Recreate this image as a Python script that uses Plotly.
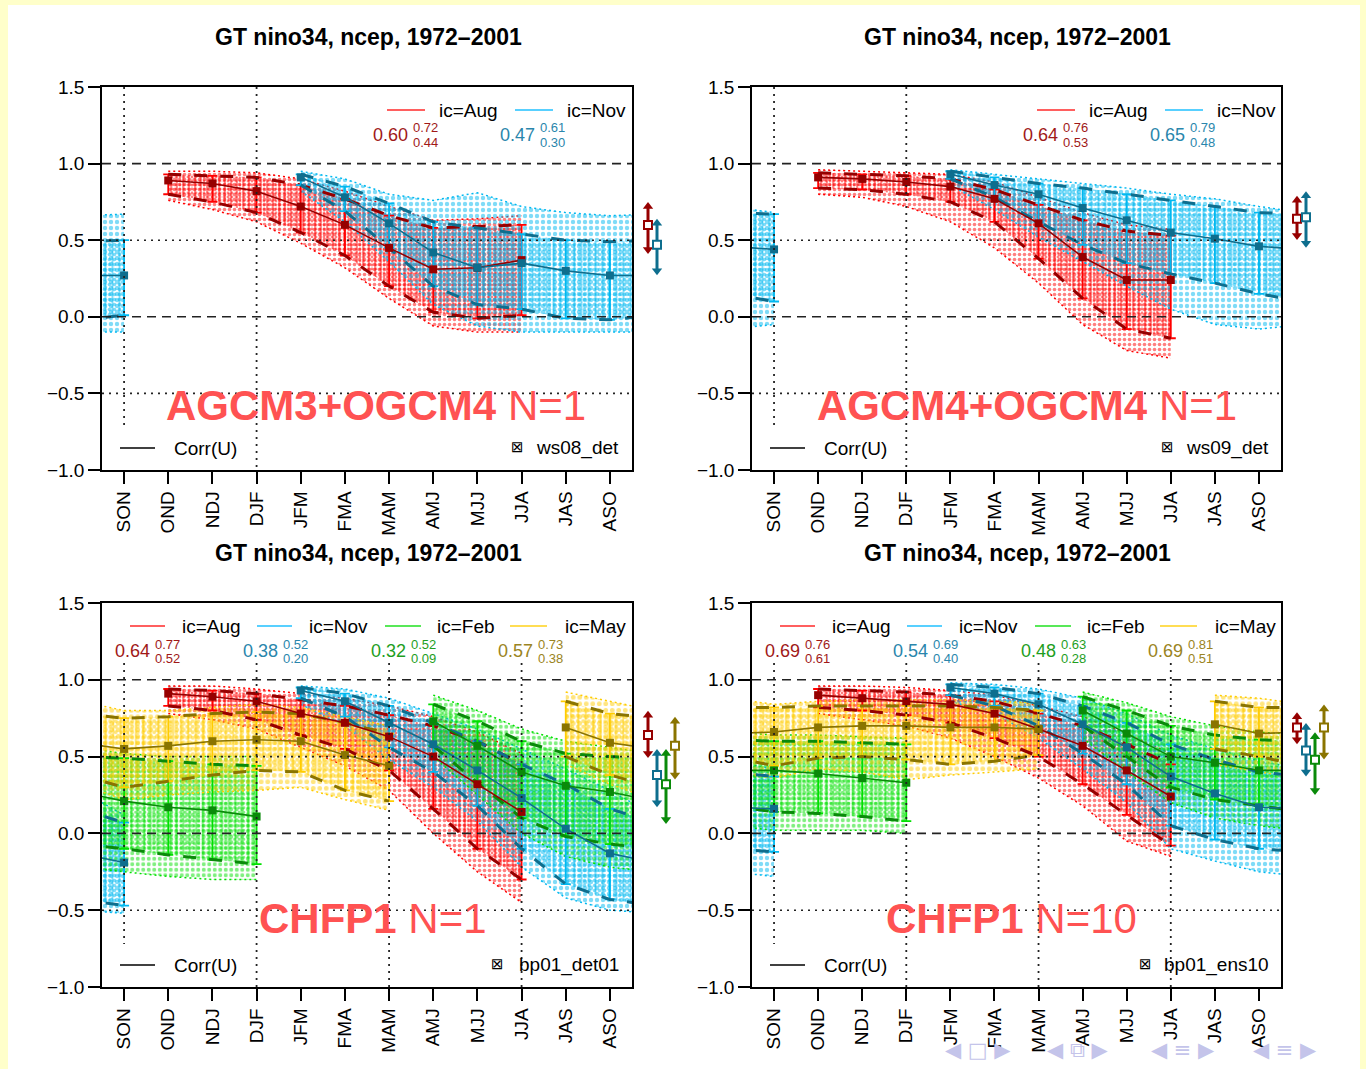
import plotly.graph_objects as go

W, H = 1366, 1069

# ---------------- data ----------------
seasons = ["SON", "OND", "NDJ", "DJF", "JFM", "FMA", "MAM", "AMJ", "MJJ", "JJA", "JAS", "ASO"]
y_ticks = [-1.0, -0.5, 0.0, 0.5, 1.0, 1.5]
ic_months = ["Aug", "Nov", "Feb", "May"]
ic_start = [1, 4, 7, 10]  # index of first target season for each initial month

# --- ws08_det (AGCM3+OGCM4 N=1) ---
ws08_aug_corr = [0.89, 0.87, 0.82, 0.72, 0.60, 0.45, 0.31, 0.32, 0.37]
ws08_aug_hi = [0.93, 0.92, 0.91, 0.86, 0.77, 0.66, 0.58, 0.59, 0.60]
ws08_aug_lo = [0.80, 0.75, 0.68, 0.55, 0.40, 0.20, 0.03, -0.01, 0.01]
ws08_aug_ens_hi = [0.95, 0.95, 0.94, 0.90, 0.82, 0.72, 0.63, 0.64, 0.66]
ws08_aug_ens_lo = [0.76, 0.70, 0.62, 0.48, 0.32, 0.12, -0.06, -0.10, -0.10]
ws08_nov_corr = [0.91, 0.78, 0.61, 0.42, 0.32, 0.35, 0.30, 0.27, 0.27]
ws08_nov_hi = [0.93, 0.85, 0.74, 0.62, 0.58, 0.54, 0.50, 0.49, 0.50]
ws08_nov_lo = [0.86, 0.69, 0.45, 0.20, 0.08, 0.05, -0.01, -0.02, 0.01]
ws08_nov_ens_hi = [0.95, 0.90, 0.80, 0.76, 0.81, 0.72, 0.68, 0.66, 0.67]
ws08_nov_ens_lo = [0.82, 0.62, 0.36, 0.08, -0.06, -0.10, -0.10, -0.10, -0.10]
ws08_skill = [0.60, 0.47]
ws08_skill_hi = [0.72, 0.61]
ws08_skill_lo = [0.44, 0.30]

# --- ws09_det (AGCM4+OGCM4 N=1) ---
ws09_aug_corr = [0.91, 0.90, 0.88, 0.85, 0.77, 0.61, 0.39, 0.24, 0.24]
ws09_aug_hi = [0.94, 0.93, 0.92, 0.90, 0.83, 0.73, 0.63, 0.56, 0.53]
ws09_aug_lo = [0.84, 0.83, 0.80, 0.75, 0.62, 0.38, 0.12, -0.08, -0.14]
ws09_aug_ens_hi = [0.96, 0.95, 0.94, 0.93, 0.88, 0.78, 0.68, 0.60, 0.57]
ws09_aug_ens_lo = [0.80, 0.78, 0.72, 0.62, 0.45, 0.22, -0.05, -0.22, -0.27]
ws09_nov_corr = [0.93, 0.86, 0.80, 0.71, 0.63, 0.55, 0.51, 0.46, 0.44]
ws09_nov_hi = [0.95, 0.91, 0.87, 0.84, 0.80, 0.76, 0.72, 0.68, 0.67]
ws09_nov_lo = [0.90, 0.78, 0.62, 0.47, 0.35, 0.28, 0.22, 0.15, 0.10]
ws09_nov_ens_hi = [0.96, 0.93, 0.90, 0.87, 0.84, 0.80, 0.77, 0.72, 0.68]
ws09_nov_ens_lo = [0.86, 0.70, 0.52, 0.36, 0.20, 0.05, -0.05, -0.08, -0.05]
ws09_skill = [0.64, 0.65]
ws09_skill_hi = [0.76, 0.79]
ws09_skill_lo = [0.53, 0.48]

# --- bp01_det01 (CHFP1 N=1) ---
det01_aug_corr = [0.91, 0.89, 0.86, 0.78, 0.72, 0.63, 0.50, 0.32, 0.14]
det01_aug_hi = [0.94, 0.93, 0.91, 0.87, 0.83, 0.77, 0.70, 0.60, 0.45]
det01_aug_lo = [0.83, 0.80, 0.74, 0.64, 0.55, 0.41, 0.16, -0.10, -0.30]
det01_aug_ens_hi = [0.96, 0.96, 0.94, 0.91, 0.88, 0.83, 0.76, 0.66, 0.52]
det01_aug_ens_lo = [0.78, 0.74, 0.68, 0.56, 0.44, 0.28, 0.00, -0.25, -0.45]
det01_nov_corr = [0.93, 0.86, 0.72, 0.58, 0.41, 0.23, 0.03, -0.13, -0.19]
det01_nov_hi = [0.95, 0.91, 0.83, 0.72, 0.60, 0.45, 0.32, 0.16, 0.07]
det01_nov_lo = [0.88, 0.76, 0.56, 0.40, 0.18, -0.10, -0.33, -0.43, -0.47]
det01_nov_ens_hi = [0.96, 0.94, 0.88, 0.78, 0.68, 0.55, 0.42, 0.28, 0.12]
det01_nov_ens_lo = [0.84, 0.70, 0.48, 0.30, 0.08, -0.22, -0.42, -0.50, -0.52]
det01_feb_corr = [0.73, 0.57, 0.40, 0.31, 0.27, 0.21, 0.17, 0.15, 0.11]
det01_feb_hi = [0.84, 0.73, 0.60, 0.52, 0.50, 0.49, 0.47, 0.45, 0.44]
det01_feb_lo = [0.57, 0.33, 0.10, -0.02, -0.07, -0.10, -0.14, -0.17, -0.20]
det01_feb_ens_hi = [0.90, 0.80, 0.68, 0.60, 0.56, 0.52, 0.50, 0.50, 0.50]
det01_feb_ens_lo = [0.50, 0.25, 0.00, -0.15, -0.22, -0.25, -0.28, -0.30, -0.30]
det01_may_corr = [0.69, 0.59, 0.55, 0.57, 0.60, 0.61, 0.60, 0.51, 0.44]
det01_may_hi = [0.86, 0.78, 0.75, 0.76, 0.78, 0.79, 0.78, 0.72, 0.65]
det01_may_lo = [0.50, 0.38, 0.30, 0.34, 0.38, 0.41, 0.40, 0.28, 0.21]
det01_may_ens_hi = [0.92, 0.86, 0.80, 0.80, 0.82, 0.84, 0.82, 0.76, 0.70]
det01_may_ens_lo = [0.45, 0.32, 0.22, 0.25, 0.27, 0.28, 0.30, 0.22, 0.15]
det01_skill = [0.64, 0.38, 0.32, 0.57]
det01_skill_hi = [0.77, 0.52, 0.52, 0.73]
det01_skill_lo = [0.52, 0.20, 0.09, 0.38]

# --- bp01_ens10 (CHFP1 N=10) ---
ens10_aug_corr = [0.90, 0.88, 0.86, 0.84, 0.78, 0.68, 0.57, 0.41, 0.24]
ens10_aug_hi = [0.94, 0.93, 0.92, 0.90, 0.86, 0.78, 0.70, 0.58, 0.45]
ens10_aug_lo = [0.82, 0.80, 0.77, 0.72, 0.62, 0.50, 0.32, 0.12, -0.08]
ens10_aug_ens_hi = [0.96, 0.96, 0.95, 0.93, 0.90, 0.83, 0.76, 0.65, 0.52]
ens10_aug_ens_lo = [0.78, 0.74, 0.70, 0.62, 0.50, 0.36, 0.18, -0.05, -0.15]
ens10_nov_corr = [0.95, 0.91, 0.84, 0.71, 0.56, 0.37, 0.26, 0.17, 0.16]
ens10_nov_hi = [0.97, 0.95, 0.91, 0.83, 0.72, 0.58, 0.48, 0.40, 0.37]
ens10_nov_lo = [0.90, 0.83, 0.70, 0.52, 0.32, 0.05, -0.04, -0.10, -0.12]
ens10_nov_ens_hi = [0.98, 0.97, 0.94, 0.88, 0.78, 0.64, 0.55, 0.47, 0.42]
ens10_nov_ens_lo = [0.86, 0.78, 0.62, 0.42, 0.20, -0.10, -0.18, -0.25, -0.28]
ens10_feb_corr = [0.80, 0.65, 0.50, 0.46, 0.41, 0.41, 0.39, 0.36, 0.33]
ens10_feb_hi = [0.89, 0.80, 0.70, 0.64, 0.61, 0.60, 0.60, 0.59, 0.58]
ens10_feb_lo = [0.70, 0.50, 0.30, 0.22, 0.18, 0.14, 0.13, 0.11, 0.08]
ens10_feb_ens_hi = [0.92, 0.85, 0.76, 0.70, 0.66, 0.64, 0.64, 0.63, 0.62]
ens10_feb_ens_lo = [0.62, 0.40, 0.20, 0.10, 0.05, 0.02, 0.02, 0.02, 0.00]
ens10_may_corr = [0.71, 0.65, 0.66, 0.69, 0.70, 0.70, 0.69, 0.69, 0.68]
ens10_may_hi = [0.86, 0.82, 0.82, 0.83, 0.83, 0.83, 0.83, 0.82, 0.80]
ens10_may_lo = [0.55, 0.50, 0.44, 0.49, 0.50, 0.48, 0.45, 0.47, 0.51]
ens10_may_ens_hi = [0.90, 0.88, 0.84, 0.86, 0.87, 0.87, 0.87, 0.86, 0.85]
ens10_may_ens_lo = [0.45, 0.40, 0.36, 0.42, 0.40, 0.35, 0.38, 0.40, 0.42]
ens10_skill = [0.69, 0.54, 0.48, 0.69]
ens10_skill_hi = [0.76, 0.69, 0.63, 0.81]
ens10_skill_lo = [0.61, 0.40, 0.28, 0.51]

title_text = "GT nino34, ncep, 1972–2001"

# ---------------- styles ----------------
FONT = "Liberation Sans, Arial, Helvetica, sans-serif"
LIGHT = {"Aug": "#FF0000", "Nov": "#00B8F0", "Feb": "#00E000", "May": "#FFCC00"}
DARK = {"Aug": "#960000", "Nov": "#0E6E8E", "Feb": "#0A8A0A", "May": "#8A7400"}
TXT = {"Aug": "#A01818", "Nov": "#2A86AC", "Feb": "#1E9E1E", "May": "#9A8422"}
LEG = {"Aug": "#FF2A2A", "Nov": "#20C0FF", "Feb": "#20E020", "May": "#FFD21A"}
PAT = {"Aug": 5, "Nov": 6, "Feb": 5.5, "May": 6.5}
LABEL_RED = "#FF5252"


def S(corr, hi, lo, ens_hi, ens_lo):
    return dict(corr=corr, hi=hi, lo=lo, ens_hi=ens_hi, ens_lo=ens_lo)


panels = [
    dict(name="ws08_det", label="<b>AGCM3+OGCM4</b> N=1", box=(102, 632, 87, 470),
         label_xy=(376, 405), sym_dx=415, vlines=[0, 3], bottom=False,
         series=[S(ws08_aug_corr, ws08_aug_hi, ws08_aug_lo, ws08_aug_ens_hi, ws08_aug_ens_lo),
                 S(ws08_nov_corr, ws08_nov_hi, ws08_nov_lo, ws08_nov_ens_hi, ws08_nov_ens_lo)],
         skill=(ws08_skill, ws08_skill_hi, ws08_skill_lo)),
    dict(name="ws09_det", label="<b>AGCM4+OGCM4</b> N=1", box=(752, 1281, 87, 470),
         label_xy=(1027, 405), sym_dx=415, vlines=[0, 3], bottom=False,
         series=[S(ws09_aug_corr, ws09_aug_hi, ws09_aug_lo, ws09_aug_ens_hi, ws09_aug_ens_lo),
                 S(ws09_nov_corr, ws09_nov_hi, ws09_nov_lo, ws09_nov_ens_hi, ws09_nov_ens_lo)],
         skill=(ws09_skill, ws09_skill_hi, ws09_skill_lo)),
    dict(name="bp01_det01", label="<b>CHFP1</b> N=1", box=(102, 632, 603, 987),
         label_xy=(373, 918), sym_dx=395, vlines=[0, 3, 6, 9], bottom=True,
         series=[S(det01_aug_corr, det01_aug_hi, det01_aug_lo, det01_aug_ens_hi, det01_aug_ens_lo),
                 S(det01_nov_corr, det01_nov_hi, det01_nov_lo, det01_nov_ens_hi, det01_nov_ens_lo),
                 S(det01_feb_corr, det01_feb_hi, det01_feb_lo, det01_feb_ens_hi, det01_feb_ens_lo),
                 S(det01_may_corr, det01_may_hi, det01_may_lo, det01_may_ens_hi, det01_may_ens_lo)],
         skill=(det01_skill, det01_skill_hi, det01_skill_lo)),
    dict(name="bp01_ens10", label="<b>CHFP1</b> N=10", box=(752, 1281, 603, 987),
         label_xy=(1011, 918), sym_dx=393, vlines=[0, 3, 6, 9], bottom=True,
         series=[S(ens10_aug_corr, ens10_aug_hi, ens10_aug_lo, ens10_aug_ens_hi, ens10_aug_ens_lo),
                 S(ens10_nov_corr, ens10_nov_hi, ens10_nov_lo, ens10_nov_ens_hi, ens10_nov_ens_lo),
                 S(ens10_feb_corr, ens10_feb_hi, ens10_feb_lo, ens10_feb_ens_hi, ens10_feb_ens_lo),
                 S(ens10_may_corr, ens10_may_hi, ens10_may_lo, ens10_may_ens_hi, ens10_may_ens_lo)],
         skill=(ens10_skill, ens10_skill_hi, ens10_skill_lo)),
]


def px(x):
    return x / W


def py(y):
    return 1 - y / H


def split_wrap(start, vals):
    xs = [start + k for k in range(len(vals))]
    a = [(x, v) for x, v in zip(xs, vals) if x <= 11]
    b = [(x - 12, v) for x, v in zip(xs, vals) if x > 11]
    segs = []
    if a:
        seg = list(a)
        if b:
            seg.append((12, b[0][1]))
        segs.append(seg)
    if b:
        seg = list(b)
        if a:
            seg.insert(0, (-1, a[-1][1]))
        segs.append(seg)
    return segs


fig = go.Figure()
annotations = []
shapes = []
layout_axes = {}


def ann(x, y, text, size, color="black", xanchor="center", yanchor="middle", **kw):
    annotations.append(dict(x=px(x), y=py(y), xref="paper", yref="paper", text=text,
                            showarrow=False, xanchor=xanchor, yanchor=yanchor,
                            font=dict(size=size, color=color, family=kw.pop("family", FONT)), **kw))


# page background (beamer slide)
shapes.append(dict(type="rect", xref="paper", yref="paper", x0=px(8), x1=px(1360), y0=0, y1=py(5),
                   fillcolor="white", line=dict(width=0), layer="below"))

for i, P in enumerate(panels):
    n = i + 1
    xa = "x" if n == 1 else f"x{n}"
    ya = "y" if n == 1 else f"y{n}"
    xs_ax = f"x{n + 4}"
    L, R, T, B = P["box"]
    nser = len(P["series"])

    layout_axes[f"xaxis{'' if n == 1 else n}"] = dict(
        domain=[px(L), px(R)], anchor=ya, range=[-0.5, 11.5], tickmode="array", automargin=False,
        tickvals=list(range(12)), ticktext=seasons, tickangle=-90, ticks="outside", ticklen=12,
        tickwidth=1.5, tickcolor="black", showline=True, mirror=True, linecolor="black", linewidth=1.5,
        showgrid=False, zeroline=False, tickfont=dict(size=19, family=FONT, color="black"))
    layout_axes[f"yaxis{'' if n == 1 else n}"] = dict(
        domain=[py(B), py(T)], anchor=xa, range=[-1.0, 1.5], tickmode="array", tickvals=y_ticks,
        tickformat=".1f", ticks="outside", ticklen=12, tickwidth=1.5, tickcolor="black", automargin=False,
        showline=True, mirror=True, linecolor="black", linewidth=1.5, showgrid=False, zeroline=False,
        tickfont=dict(size=19, family=FONT, color="black"))
    layout_axes[f"xaxis{n + 4}"] = dict(domain=[px(R + 8), px(R + 52)], anchor=ya, range=[-0.889, 4.0],
                                        visible=False, showgrid=False, zeroline=False, automargin=False)

    # ensemble dotted clouds
    for k in range(nser):
        m = ic_months[k]
        s = P["series"][k]
        st = ic_start[k]
        ps = PAT[m]
        for top, bot, shape, size, sol in [(s["ens_hi"], s["ens_lo"], ".", ps, 0.42),
                                           (s["hi"], s["lo"], "|", ps + 1, 0.28),
                                           (s["hi"], s["lo"], ".", ps - 1, 0.4)]:
            for seg_t, seg_b in zip(split_wrap(st, top), split_wrap(st, bot)):
                xx = [p[0] for p in seg_t] + [p[0] for p in seg_b][::-1]
                yy = [p[1] for p in seg_t] + [p[1] for p in seg_b][::-1]
                fig.add_trace(go.Scatter(
                    x=xx, y=yy, xaxis=xa, yaxis=ya, mode="lines", line=dict(width=0),
                    fill="toself", fillcolor="rgba(0,0,0,0)",
                    fillpattern=dict(shape=shape, fgcolor=LIGHT[m], bgcolor="rgba(0,0,0,0)",
                                     size=size, solidity=sol),
                    hoverinfo="skip", showlegend=False))
        for env in (s["ens_hi"], s["ens_lo"]):
            for seg in split_wrap(st, env):
                fig.add_trace(go.Scatter(
                    x=[p[0] for p in seg], y=[p[1] for p in seg], xaxis=xa, yaxis=ya, mode="lines",
                    line=dict(color=LIGHT[m], width=1.5, dash="2px,3px"), hoverinfo="skip",
                    showlegend=False))

    # error bars, CI dashed lines, correlation lines
    for k in range(nser):
        m = ic_months[k]
        s = P["series"][k]
        st = ic_start[k]
        ptx = [(st + j) % 12 for j in range(len(s["corr"]))]
        fig.add_trace(go.Scatter(
            x=ptx, y=s["corr"], xaxis=xa, yaxis=ya, mode="markers",
            marker=dict(size=1, color="rgba(0,0,0,0)"),
            error_y=dict(type="data", symmetric=False,
                         array=[h - c for h, c in zip(s["hi"], s["corr"])],
                         arrayminus=[c - l for c, l in zip(s["corr"], s["lo"])],
                         color=LIGHT[m], thickness=1.8, width=5),
            hoverinfo="skip", showlegend=False))
        for bound in (s["hi"], s["lo"]):
            for seg in split_wrap(st, bound):
                fig.add_trace(go.Scatter(
                    x=[p[0] for p in seg], y=[p[1] for p in seg], xaxis=xa, yaxis=ya, mode="lines",
                    line=dict(color=DARK[m], width=3, dash="13px,13px"), hoverinfo="skip",
                    showlegend=False))
    for k in range(nser):
        m = ic_months[k]
        s = P["series"][k]
        st = ic_start[k]
        for seg in split_wrap(st, s["corr"]):
            fig.add_trace(go.Scatter(
                x=[p[0] for p in seg], y=[p[1] for p in seg], xaxis=xa, yaxis=ya, mode="lines",
                line=dict(color=DARK[m], width=1.6), hoverinfo="skip", showlegend=False))
        ptx = [(st + j) % 12 for j in range(len(s["corr"]))]
        fig.add_trace(go.Scatter(
            x=ptx, y=s["corr"], xaxis=xa, yaxis=ya, mode="markers",
            marker=dict(symbol="square", size=8, color=DARK[m]), hoverinfo="skip", showlegend=False))

    # summary skill bars to the right of the panel
    sk, skh, skl = P["skill"]
    for k in range(nser):
        m = ic_months[k]
        fig.add_trace(go.Scatter(
            x=[k, k], y=[skl[k], skh[k]], xaxis=xs_ax, yaxis=ya, mode="lines+markers",
            line=dict(color=DARK[m], width=3),
            marker=dict(symbol=["triangle-down", "triangle-up"], size=9, color=DARK[m]),
            cliponaxis=False, hoverinfo="skip", showlegend=False))
        fig.add_trace(go.Scatter(
            x=[k], y=[sk[k]], xaxis=xs_ax, yaxis=ya, mode="markers",
            marker=dict(symbol="square", size=8, color="white", line=dict(color=DARK[m], width=2)),
            cliponaxis=False, hoverinfo="skip", showlegend=False))

    # reference lines
    for yv, dash in [(1.0, "9px,6px"), (0.0, "9px,6px"), (0.5, "2px,5px"), (-0.5, "2px,5px")]:
        shapes.append(dict(type="line", xref=f"{xa} domain", yref=ya, x0=0, x1=1, y0=yv, y1=yv,
                           line=dict(color="#222222", width=1.6, dash=dash)))
    ytop = 1.5 if not P["bottom"] else 1.11
    for xv in P["vlines"]:
        ybot = -0.72 if xv == 0 else -1.0
        shapes.append(dict(type="line", xref=xa, yref=ya, x0=xv, x1=xv, y0=ytop, y1=ybot,
                           line=dict(color="#222222", width=1.8, dash="2px,5px")))

    # title
    ann((L + R) / 2 + 1, T - 50, f"<b>{title_text}</b>", 23)

    # legend for initial months and mean skills
    if not P["bottom"]:
        leg_line = [(285, 323), (413, 451)]
        leg_txt = [335, 463]
        num_r = [308, 435]
    else:
        leg_line = [(28, 63), (155, 190), (283, 319), (408, 445)]
        leg_txt = [78, 205, 333, 461]
        num_r = [50, 178, 306, 433]
    for k in range(nser):
        m = ic_months[k]
        shapes.append(dict(type="line", xref="paper", yref="paper", x0=px(L + leg_line[k][0]),
                           x1=px(L + leg_line[k][1]), y0=py(T + 23), y1=py(T + 23),
                           line=dict(color=LEG[m], width=1.6)))
        ann(L + leg_txt[k], T + 23, f"ic={m}", 19, xanchor="left")
        ann(L + num_r[k], T + 48, f"{sk[k]:.2f}", 18, color=TXT[m], xanchor="right")
        ann(L + num_r[k] + 1, T + 41, f"{skh[k]:.2f}", 13, color=TXT[m], xanchor="left")
        ann(L + num_r[k] + 1, T + 55, f"{skl[k]:.2f}", 13, color=TXT[m], xanchor="left")

    # bottom legend
    shapes.append(dict(type="line", xref="paper", yref="paper", x0=px(L + 18), x1=px(L + 53),
                       y0=py(B - 22), y1=py(B - 22), line=dict(color="black", width=1.4)))
    ann(L + 70, B - 22, "Corr(U)", 19, xanchor="left")
    ann(L + P["sym_dx"], B - 23, "⊠", 15, xanchor="center", family="DejaVu Sans")
    ann(L + 519, B - 22, P["name"], 19, xanchor="right")

    # big model label
    ann(P["label_xy"][0], P["label_xy"][1], P["label"], 42, color=LABEL_RED)

# beamer navigation symbols
for cx, sym in [(978, "◀ □ ▶"), (1078, "◀ ⧉ ▶"), (1183, "◀ ≡ ▶"), (1285, "◀ ≡ ▶")]:
    ann(cx, 1050, sym, 21, color="#C4C4EA", family="DejaVu Sans")

fig.update_layout(
    width=W, height=H, margin=dict(l=0, r=0, t=0, b=0, pad=0, autoexpand=False),
    paper_bgcolor="#FFFFCA", plot_bgcolor="white", showlegend=False,
    font=dict(family=FONT, size=19, color="black"),
    annotations=annotations, shapes=shapes, **layout_axes)

fig.write_html("out.html")
